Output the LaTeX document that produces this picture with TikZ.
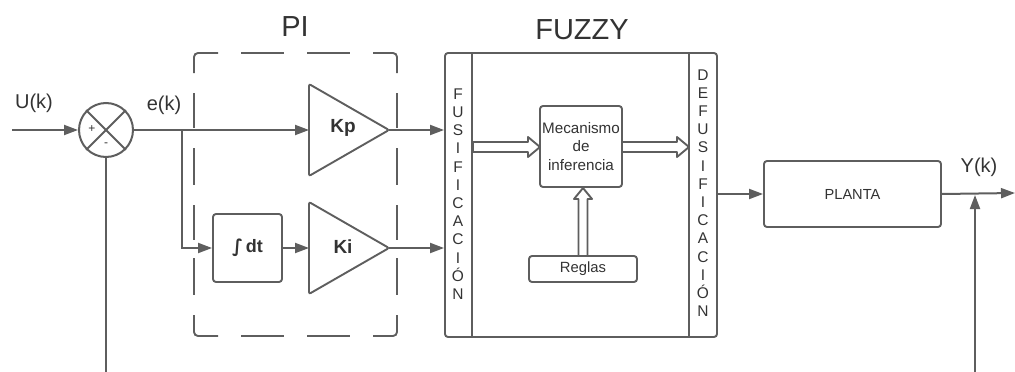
\documentclass[tikz,border=0pt]{standalone}
\usepackage{fontspec}
\setmainfont{Liberation Sans}
\newfontfamily\dvs{DejaVu Sans}
\usetikzlibrary{arrows.meta,calc}
\definecolor{ln}{HTML}{5E5E5E}
\definecolor{tx}{HTML}{333333}
\begin{document}
\begin{tikzpicture}[x=1pt,y=-1pt,
  every node/.style={text=tx, inner sep=0pt},
  wire/.style={draw=ln, line width=2pt},
  arr/.style={wire, -{Triangle[length=14pt,width=10pt]}},
  box/.style={draw=ln, line width=1.9pt, rounded corners=3pt, fill=white},
  hol/.style={draw=ln, line width=1.9pt, fill=white, line join=round},
  dsh/.style={draw=ln, line width=1.9pt, rounded corners=4pt},
  sig/.style={font=\fontsize{20}{23}\selectfont},
  title/.style={font=\fontsize{29}{33}\selectfont},
  gain/.style={font=\bfseries\fontsize{19}{22}\selectfont},
  stack/.style={font=\fontsize{15.5}{18.2}\selectfont, align=center}
]
\useasboundingbox (0,0) rectangle (1015,372);

% labels
\node[title] (tpi) at (295,27) {PI};
\node[title] (tfz) at (582,30) {FUZZY};
\node[sig] (tu) at (34,103) {U(k)};
\node[sig] (te) at (164,105) {e(k)};
\node[sig] (ty) at (979,167) {Y(k)};

% summing junction
\node[draw=ln, line width=2pt, circle, minimum size=54pt] (sum) at (106,130) {};
\draw[wire] (sum.north west) -- (sum.south east);
\draw[wire] (sum.north east) -- (sum.south west);
\node[font=\fontsize{12}{14}\selectfont] (plus) at (92,129) {+};
\node[font=\fontsize{12}{14}\selectfont] (minus) at (106,145) {-};

% PI dashed box (drawn piece by piece, like the reference)
\draw[dsh] (194,73) -- (194,53) -- (218,53);
\draw[dsh] (373,53) -- (397,53) -- (397,73);
\draw[dsh] (194,315) -- (194,336) -- (218,336);
\draw[dsh] (373,336) -- (397,336) -- (397,315);
\foreach \a/\b in {241/284,307/350} {
  \draw[wire, line width=1.9pt] (\a,53) -- (\b,53);
  \draw[wire, line width=1.9pt] (\a,336) -- (\b,336);
}
\foreach \a/\b in {93/128,148/185,205/240,258/295} {
  \draw[wire, line width=1.9pt] (194,\a) -- (194,\b);
  \draw[wire, line width=1.9pt] (397,\a) -- (397,\b);
}

% gains
\draw[box, rounded corners=2pt] (309,84) -- (389,130) -- (309,176) -- cycle;
\draw[box, rounded corners=2pt] (309,202) -- (389,248) -- (309,294) -- cycle;
\coordinate (kpL) at (309,130);
\coordinate (kpT) at (389,130);
\coordinate (kiL) at (309,248);
\coordinate (kiT) at (389,248);
\node[gain] (kp) at (343,128) {Kp};
\node[gain] (ki) at (343,247) {Ki};

% integrator
\node[box, minimum width=69pt, minimum height=68pt, font=\bfseries\fontsize{18}{21}\selectfont] (int) at (247.5,248) {{\dvs\bfseries ∫}\,dt};

% fuzzy
\node[box, minimum width=272pt, minimum height=284pt] (fz) at (581,195) {};
\coordinate (f1t) at (472,53); \coordinate (f1b) at (472,337);
\coordinate (f2t) at (689,53); \coordinate (f2b) at (689,337);
\draw[wire, line width=1.9pt] (f1t) -- (f1b);
\draw[wire, line width=1.9pt] (f2t) -- (f2b);
\node[stack] (fus) at (458,194) {F\\U\\S\\I\\F\\I\\C\\A\\C\\I\\Ó\\N};
\node[stack] (defus) at (703,193) {D\\E\\F\\U\\S\\I\\F\\I\\C\\A\\C\\I\\Ó\\N};

\node[box, minimum width=82pt, minimum height=81pt, align=center, font=\fontsize{15.2}{18.5}\selectfont] (mec) at (581,146.5) {Mecanismo\\de\\inferencia};
\node[box, minimum width=108pt, minimum height=26pt, font=\fontsize{14.8}{17}\selectfont] (reg) at (583,269) {Reglas};

% hollow arrows
\draw[hol] (473,142) -- (528,142) -- (528,137) -- (540,147) -- (528,157) -- (528,152) -- (473,152) -- cycle;
\draw[hol] (622,142) -- (677,142) -- (677,137) -- (689,147) -- (677,157) -- (677,152) -- (622,152) -- cycle;
\draw[hol] (578.5,256) -- (578.5,199) -- (574,199) -- (583,188) -- (592,199) -- (587.5,199) -- (587.5,256) -- cycle;

% planta
\node[box, minimum width=177pt, minimum height=66pt, font=\fontsize{14.6}{17}\selectfont] (pl) at (852.5,194) {PLANTA};

% connectors
\coordinate (in) at (12,130);
\coordinate (br) at (182,130);
\coordinate (out) at (1015,193);
\coordinate (fbR) at (975,372);
\coordinate (fbL) at (106,372);
\draw[arr] (in) -- (sum.west);
\draw[arr] (sum.east) -- (kpL);
\draw[arr] (br) |- (int.west);
\draw[arr] (int.east) -- (kiL);
\draw[arr] (kpT) -- (fz.west |- kpT);
\draw[arr] (kiT) -- (fz.west |- kiT);
\draw[arr] (fz.east |- pl.west) -- (pl.west);
\draw[arr] (pl.east) -- (out);
\draw[arr, shorten >=1pt] (fbR) -- (fbR |- pl.east);
\draw[wire] (sum.south) -- (fbL);
\end{tikzpicture}
\end{document}
